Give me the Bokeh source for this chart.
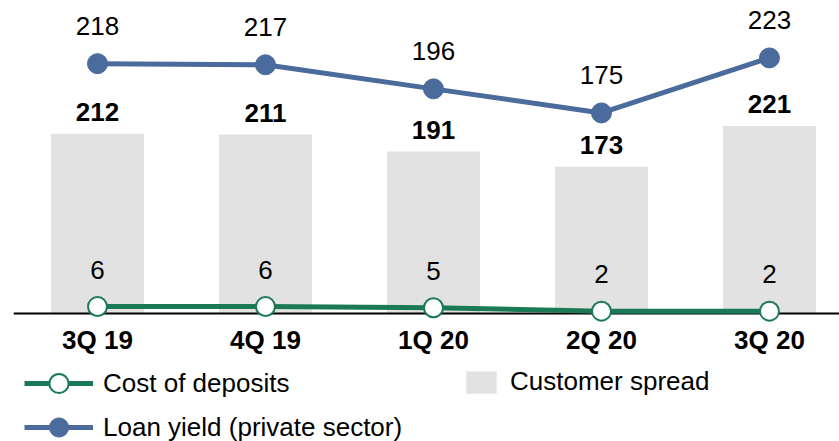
from bokeh.plotting import figure
from bokeh.models import Range1d, FixedTicker, Legend, LegendItem, ColumnDataSource
from bokeh.core.properties import value
from bokeh.embed import file_html
from bokeh.resources import INLINE

quarters = ["3Q 19", "4Q 19", "1Q 20", "2Q 20", "3Q 20"]
customer_spread = [212, 211, 191, 173, 221]
loan_yield = [218, 217, 196, 175, 223]
cost_of_deposits = [6, 6, 5, 2, 2]

BLUE = "#4A6B9B"
GREEN = "#1B7A55"
GRAY = "#E2E2E2"
FONT = "Liberation Sans"

xs = list(range(len(quarters)))
src = ColumnDataSource(dict(
    x=xs,
    spread=customer_spread,
    loan=loan_yield,
    cost=cost_of_deposits,
    spread_lbl=[str(v) for v in customer_spread],
    loan_lbl=[str(v) for v in loan_yield],
    cost_lbl=[str(v) for v in cost_of_deposits],
))

p = figure(width=839, height=441, output_backend="svg", toolbar_location=None,
           x_range=Range1d(-0.5, 4.417), y_range=Range1d(-111.7, 273.1),
           y_axis_location=None, min_border_left=13, min_border_right=0,
           min_border_top=0, min_border_bottom=0)
p.extra_y_ranges = {"bars": Range1d(-150.9, 369.1)}
p.outline_line_color = None
p.xgrid.visible = False
p.ygrid.visible = False
p.background_fill_color = "white"
p.border_fill_color = "white"

bars = p.vbar(x="x", top="spread", width=0.554, source=src, y_range_name="bars",
              fill_color=GRAY, line_color=None)
p.text(x="x", y="spread", text="spread_lbl", source=src, y_range_name="bars",
       text_font=value(FONT), text_font_size="26px", text_font_style="bold",
       text_align="center", text_baseline="alphabetic", y_offset=-22, text_color="black")

loan_line = p.line(x="x", y="loan", source=src, line_color=BLUE, line_width=5)
loan_pts = p.scatter(x="x", y="loan", source=src, size=20, fill_color=BLUE, line_color=BLUE)
p.text(x="x", y="loan", text="loan_lbl", source=src,
       text_font=value(FONT), text_font_size="26px",
       text_align="center", text_baseline="alphabetic", y_offset=-38, text_color="black")

cost_line = p.line(x="x", y="cost", source=src, line_color=GREEN, line_width=5, level="annotation")
cost_pts = p.scatter(x="x", y="cost", source=src, size=19, fill_color="white",
                     line_color=GREEN, line_width=2, level="annotation")
p.text(x="x", y="cost", text="cost_lbl", source=src,
       text_font=value(FONT), text_font_size="26px",
       text_align="center", text_baseline="alphabetic", y_offset=-37, text_color="black")

ax = p.xaxis[0]
ax.fixed_location = 0
ax.ticker = FixedTicker(ticks=xs)
ax.major_label_overrides = {i: q for i, q in enumerate(quarters)}
ax.major_label_text_font = FONT
ax.major_label_text_font_size = "26px"
ax.major_label_text_font_style = "bold"
ax.major_label_text_color = "black"
ax.major_label_standoff = 6
ax.major_tick_line_color = None
ax.minor_tick_line_color = None
ax.axis_line_color = "black"
ax.axis_line_width = 2


def make_legend(items, loc, gw, gh):
    lg = Legend(items=items, location=loc, glyph_width=gw, glyph_height=gh,
                label_height=gh, padding=0, margin=0, spacing=0, label_standoff=10,
                label_text_font=FONT, label_text_font_size="26px", label_text_color="black",
                background_fill_alpha=0, border_line_alpha=0)
    return lg


p.add_layout(make_legend([LegendItem(label="Cost of deposits", renderers=[cost_line, cost_pts])],
                         (11, 34), 69, 48))
p.add_layout(make_legend([LegendItem(label="Loan yield (private sector)", renderers=[loan_line, loan_pts])],
                         (11, -10), 69, 48))
p.add_layout(make_legend([LegendItem(label="Customer spread", renderers=[bars])],
                         (449, 44), 38, 28))

open("out.html", "w").write(file_html(p, INLINE))
